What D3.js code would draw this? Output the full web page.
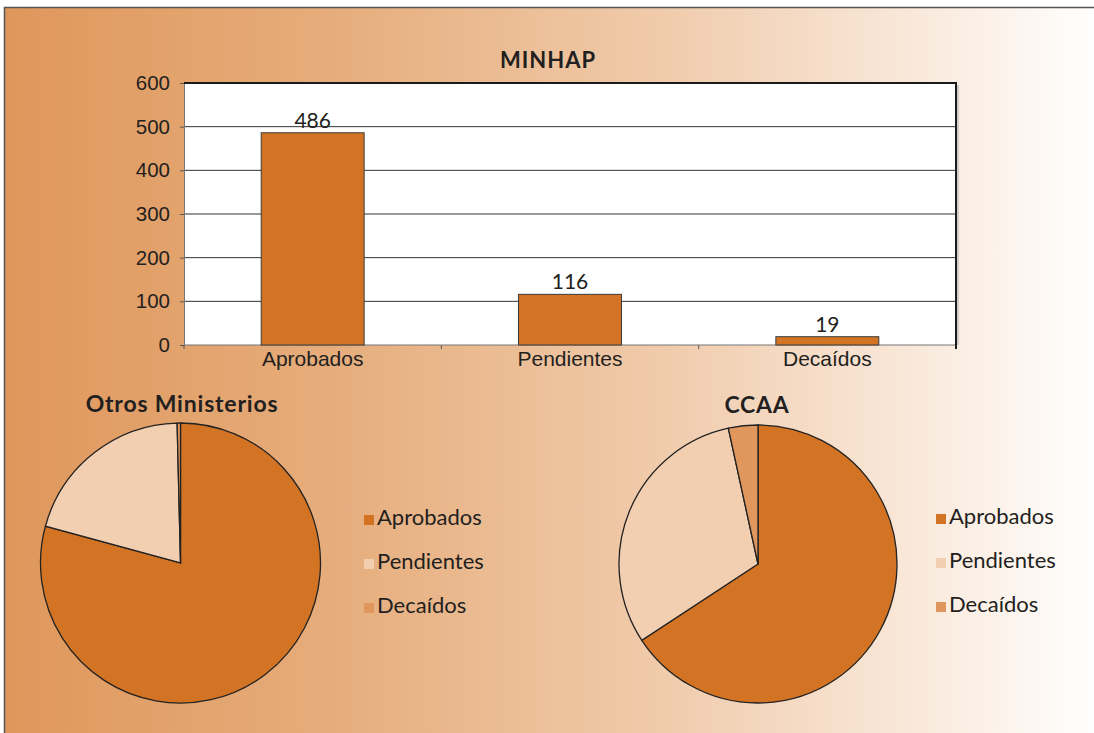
<!DOCTYPE html>
<html>
<head>
<meta charset="utf-8">
<script src="https://cdn.jsdelivr.net/npm/d3@7"></script>
<style>
  body { margin: 0; background: #fff; }
  svg { display: block; font-family: Lato, "Open Sans", sans-serif; }
</style>
</head>
<body>
<div id="chart"></div>
<script>
// Data
const categories = ["Aprobados", "Pendientes", "Decaídos"];
const minhapValues = [486, 116, 19];
const yTicks = [0, 100, 200, 300, 400, 500, 600];
const otrosValues = [206, 53, 1];
const ccaaValues = [192, 90, 10];
const colors = ["#d37425", "#f3cfb1", "#e0975d"];

const W = 1094, H = 733;
const ink = "#231f20";

const svg = d3.select("#chart").append("svg")
  .attr("width", W)
  .attr("height", H);

// Background gradient
const grad = svg.append("defs").append("linearGradient")
  .attr("id", "bg").attr("x1", 0).attr("x2", 1).attr("y1", 0).attr("y2", 0);
[[0, "#df975b"], [0.3, "#e6ad7c"], [0.6, "#f0cbab"], [0.83, "#f9e8da"], [1, "#ffffff"]]
  .forEach(s => grad.append("stop").attr("offset", s[0]).attr("stop-color", s[1]));

svg.append("rect")
  .attr("x", 4.5).attr("y", 7.5)
  .attr("width", W).attr("height", H)
  .attr("fill", "url(#bg)")
  .attr("stroke", "#555").attr("stroke-width", 1.5);

// ---------- Bar chart ----------
const x = d3.scaleBand().domain(categories)
  .range([184, 956]).paddingInner(0.6).paddingOuter(0.3);
const y = d3.scaleLinear().domain([0, 600]).range([345, 83]);

const bar = svg.append("g");

bar.append("rect")
  .attr("x", 184).attr("y", y(600))
  .attr("width", 956 - 184).attr("height", y(0) - y(600))
  .attr("fill", "#fff");

// gridlines
bar.selectAll("line.grid")
  .data(yTicks.filter(d => d > 0 && d < 600))
  .enter().append("line")
  .attr("class", "grid")
  .attr("x1", 184).attr("x2", 956)
  .attr("y1", d => y(d)).attr("y2", d => y(d))
  .attr("stroke", "#333").attr("stroke-width", 1);

// y axis
const yAxis = bar.append("g")
  .attr("transform", "translate(184,0)")
  .call(d3.axisLeft(y).tickValues(yTicks).tickSize(4).tickPadding(10));
yAxis.select(".domain").attr("stroke", "#777");
yAxis.selectAll(".tick line").attr("stroke", "#555");
yAxis.selectAll("text").attr("fill", ink).style("font-size", "20.5px");

// x axis labels
const xAxis = bar.append("g")
  .attr("transform", `translate(0,${y(0)})`)
  .call(d3.axisBottom(x).tickSize(0).tickPadding(6));
xAxis.select(".domain").remove();
xAxis.selectAll("text").attr("fill", ink).style("font-size", "21px");

// boundary ticks
bar.selectAll("line.btick")
  .data(d3.range(4))
  .enter().append("line")
  .attr("x1", i => 184 + i * x.step()).attr("x2", i => 184 + i * x.step())
  .attr("y1", y(0)).attr("y2", y(0) + 4)
  .attr("stroke", "#555");

bar.append("line")
  .attr("x1", 184).attr("x2", 956)
  .attr("y1", y(0)).attr("y2", y(0))
  .attr("stroke", "#777").attr("stroke-width", 1.2);

// top and right frame
bar.append("line")
  .attr("x1", 958).attr("x2", 958).attr("y1", y(600) + 2).attr("y2", y(0))
  .attr("stroke", "#aaa").attr("stroke-width", 1);
bar.append("path")
  .attr("d", `M184,${y(600)}H956V${y(0) + 4}`)
  .attr("fill", "none").attr("stroke", "#1a1a1a").attr("stroke-width", 2);

// bars
bar.selectAll("rect.bar")
  .data(categories)
  .enter().append("rect")
  .attr("class", "bar")
  .attr("x", d => x(d))
  .attr("y", (d, i) => y(minhapValues[i]))
  .attr("width", x.bandwidth())
  .attr("height", (d, i) => y(0) - y(minhapValues[i]))
  .attr("fill", colors[0])
  .attr("stroke", "#3a3a3a").attr("stroke-width", 1);

bar.selectAll("text.val")
  .data(categories)
  .enter().append("text")
  .attr("x", d => x(d) + x.bandwidth() / 2)
  .attr("y", (d, i) => y(minhapValues[i]) - 5)
  .attr("text-anchor", "middle")
  .attr("fill", ink).style("font-size", "21px")
  .text((d, i) => minhapValues[i]);

svg.append("text")
  .attr("x", 548).attr("y", 68)
  .attr("text-anchor", "middle")
  .attr("fill", ink).style("font-size", "22px").style("font-weight", "bold")
  .style("letter-spacing", "1px")
  .text("MINHAP");

// ---------- Pies ----------
function drawPie(values, cx, cy, r, title, titleX, titleY, legX, legY) {
  const g = svg.append("g").attr("transform", `translate(${cx},${cy})`);
  const pie = d3.pie().sort(null)(values);
  const arc = d3.arc().innerRadius(0).outerRadius(r);
  g.selectAll("path")
    .data(pie)
    .enter().append("path")
    .attr("d", arc)
    .attr("fill", (d, i) => colors[i])
    .attr("stroke", "#222").attr("stroke-width", 1.3);

  svg.append("text")
    .attr("x", titleX).attr("y", titleY)
    .attr("text-anchor", "middle")
    .attr("fill", ink).style("font-size", "23px").style("font-weight", "bold")
    .style("letter-spacing", "0.8px")
    .text(title);

  const leg = svg.append("g").attr("transform", `translate(${legX},${legY})`);
  const item = leg.selectAll("g")
    .data(categories)
    .enter().append("g")
    .attr("transform", (d, i) => `translate(0,${i * 44})`);
  item.append("rect")
    .attr("x", 0).attr("y", -10)
    .attr("width", 10).attr("height", 10)
    .attr("fill", (d, i) => colors[i]);
  item.append("text")
    .attr("x", 13).attr("y", 0)
    .attr("fill", ink).style("font-size", "22px")
    .text(d => d);
}

drawPie(otrosValues, 180.5, 563, 140, "Otros Ministerios", 182, 412, 364, 525);
drawPie(ccaaValues, 758, 564, 139, "CCAA", 757, 413, 936, 524);
</script>
</body>
</html>
